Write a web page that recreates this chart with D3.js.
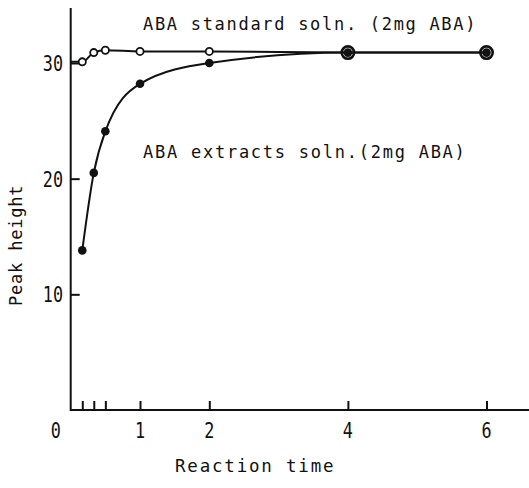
<!DOCTYPE html>
<html><head><meta charset="utf-8">
<script src="https://cdn.jsdelivr.net/npm/d3@7"></script>
<style>body{margin:0;background:#fff}svg{display:block}</style>
</head><body>
<script>
const times = [0.167, 0.333, 0.5, 1, 2, 4, 6];
const standardVals = [30.1, 30.9, 31.1, 31.0, 31.0, 30.9, 30.9];
const extractVals = [13.8, 20.5, 24.1, 28.2, 30.0, 30.9, 30.9];
const xTicks = [0.167, 0.333, 0.5, 1, 2, 4, 6];
const xTickLabels = [0, 1, 2, 4, 6];
const yTicks = [10, 20, 30];
const standardLabel = "ABA standard soln. (2mg ABA)";
const extractLabel = "ABA extracts soln.(2mg ABA)";
const xTitle = "Reaction time";
const yTitle = "Peak height";

const W = 529, H = 488;
const svg = d3.select("body").append("svg").attr("width", W).attr("height", H);
const x = d3.scaleLinear().domain([0, 6]).range([70.7, 486.5]);
const y = d3.scaleLinear().domain([0, 30]).range([410, 63]);
const font = "'DejaVu Sans Mono', monospace";
const ink = "#111";

// axes lines
svg.append("line").attr("x1", x(0)).attr("x2", W).attr("y1", y(0)).attr("y2", y(0))
  .attr("stroke", ink).attr("stroke-width", 2);
svg.append("line").attr("x1", x(0)).attr("x2", x(0)).attr("y1", y(0) + 1).attr("y2", 8)
  .attr("stroke", ink).attr("stroke-width", 2);

// x ticks
const xAxis = d3.axisBottom(x).tickValues(xTicks).tickSizeInner(-9).tickSizeOuter(0).tickFormat("");
const gx = svg.append("g").attr("transform", `translate(0,${y(0)})`).call(xAxis);
gx.select(".domain").remove();
gx.selectAll("line").attr("stroke", ink).attr("stroke-width", 2);
svg.selectAll(".xl").data(xTickLabels).enter().append("text")
  .attr("transform", d => `translate(${d === 0 ? x(0) - 15 : x(d)},438) scale(0.8,1)`)
  .attr("text-anchor", "middle").attr("fill", ink)
  .attr("font-family", font).attr("font-size", 21)
  .text(d => d);

// y ticks
const yAxis = d3.axisLeft(y).tickValues(yTicks).tickSizeInner(-9).tickSizeOuter(0).tickFormat("");
const gy = svg.append("g").attr("transform", `translate(${x(0)},0)`).call(yAxis);
gy.select(".domain").remove();
gy.selectAll("line").attr("stroke", ink).attr("stroke-width", 2);
svg.selectAll(".yl").data(yTicks).enter().append("text")
  .attr("transform", d => `translate(63,${y(d) + 8}) scale(0.8,1)`)
  .attr("text-anchor", "end").attr("fill", ink)
  .attr("font-family", font).attr("font-size", 21)
  .text(d => d);

// lines
const line = d3.line().curve(d3.curveMonotoneX).x(d => x(d[0])).y(d => y(d[1]));
const std = times.map((t, i) => [t, standardVals[i]]);
const ext = times.map((t, i) => [t, extractVals[i]]);
svg.append("path").attr("d", line([[0, standardVals[0]], ...std])).attr("fill", "none")
  .attr("stroke", ink).attr("stroke-width", 2);
svg.append("path").attr("d", line(ext)).attr("fill", "none")
  .attr("stroke", ink).attr("stroke-width", 2);

// markers
svg.selectAll(".ext").data(ext).enter().append("circle")
  .attr("cx", d => x(d[0])).attr("cy", d => y(d[1])).attr("r", 4.3).attr("fill", ink);
svg.selectAll(".std").data(std).enter().append("circle")
  .attr("cx", d => x(d[0])).attr("cy", d => y(d[1]))
  .attr("r", d => d[0] >= 4 ? 6.2 : 3.6)
  .attr("fill", d => d[0] >= 4 ? "none" : "#fff")
  .attr("stroke", ink).attr("stroke-width", d => d[0] >= 4 ? 2.6 : 1.8);

// labels
const txt = (s, xx, yy, fs, ls) => svg.append("text").attr("x", xx).attr("y", yy)
  .attr("fill", ink)
  .attr("font-family", font).attr("font-size", fs).attr("letter-spacing", ls).text(s);
txt(standardLabel, 143, 30, 17, 1.7);
txt(extractLabel, 143, 158, 17, 1.75);
txt(xTitle, 175, 472, 17.5, 1.8);
svg.append("text").attr("transform", "translate(22,306) rotate(-90)")
  .attr("fill", ink)
  .attr("font-family", font).attr("font-size", 17).attr("letter-spacing", 0.8).text(yTitle);
</script>
</body></html>
